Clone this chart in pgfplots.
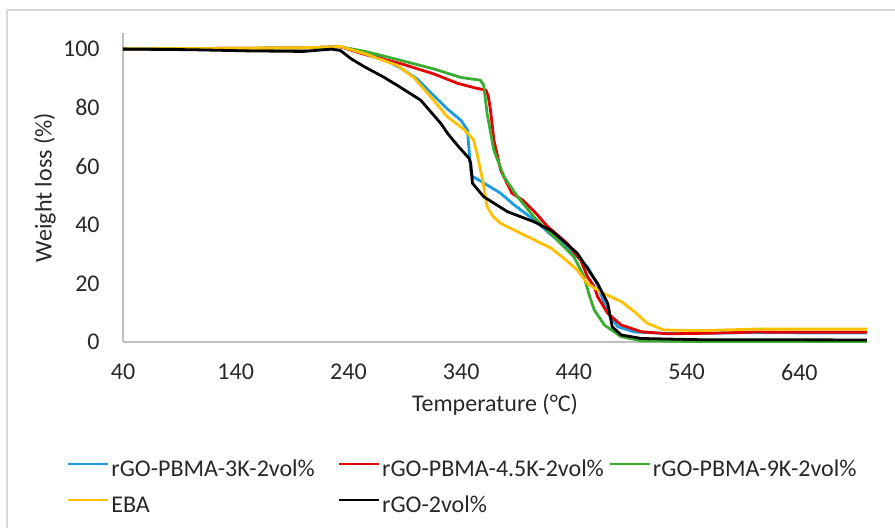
\documentclass[border=0pt]{standalone}
\usepackage{fontspec}
\setmainfont{Carlito}
\usepackage{pgfplots}
\pgfplotsset{compat=1.18}

\definecolor{cblue}{RGB}{28,157,222}
\definecolor{cred}{RGB}{228,0,0}
\definecolor{cgreen}{RGB}{58,172,50}
\definecolor{cyellow}{RGB}{255,192,0}
\definecolor{axgray}{RGB}{191,191,191}
\definecolor{txt}{RGB}{40,40,40}

\begin{document}
\fontsize{12}{14}\selectfont
\begin{tikzpicture}
\useasboundingbox (-61.5pt,-92.5pt) rectangle (386pt,171pt);
\draw[black!15, line width=0.8pt] (-58pt,-93pt) -- (-58pt,166pt) -- (387pt,166pt);
\begin{axis}[
  at={(0pt,0pt)}, anchor=south west,
  scale only axis, width=372pt, height=154.5pt,
  xmin=40, xmax=700, ymin=0, ymax=105.5,
  xtick={40,140,...,640}, ytick={0,20,...,100},
  axis x line*=bottom, axis y line*=left,
  axis line style={axgray, line width=0.8pt, -},
  major tick length=0pt,
  /pgf/number format/assume math mode=true,
  tick label style={text=txt},
  yticklabel style={xshift=-7.5pt},
  xticklabel style={yshift=-6.7pt},
  xlabel={Temperature (°C)}, ylabel={Weight loss (\%)},
  xlabel style={at={(axis description cs:0.5,0)}, anchor=center, yshift=-31.5pt, text=txt},
  ylabel style={at={([xshift=-39pt]axis description cs:0,0.5)}, anchor=center, text=txt},
  every axis plot/.append style={line width=1.4pt, line join=round, no markers},
  legend columns=3,
  legend cell align=left,
  legend image code/.code={\draw[#1, line width=1.4pt] (0pt,3pt) -- (20pt,3pt);},
  legend style={at={([xshift=-28.2pt,yshift=-58.5pt]axis description cs:0,0)},
    anchor=north west, draw=none, fill=none, inner sep=0pt, outer sep=0pt,
    row sep=7pt, text=txt,
    nodes={inner xsep=1pt, inner ysep=0pt, text height=8.5pt, text depth=2.5pt}},
]
% rGO-PBMA-3K-2vol%
\addplot[cblue] coordinates {
  (40,100)(100,100.1)(150,100.2)(200,100.4)(233,100.8)(256,98.5)(270,96.8)
  (286,93.6)(301,89.8)(316,84)(328,79.5)(340,75.6)(345.5,72.4)(347,65.5)
  (348.5,58.5)(350,56.5)(357,55)(375,50.8)(387,46.8)(405,41.6)(420,36.5)
  (434,32.5)(452,25.7)(461,19.5)(470,10)(479,5.2)(494,3.4)(520,3)(560,3)
  (600,3.2)(650,3.1)(700,3.1)
};
\addlegendentry{\makebox[112pt][l]{rGO-PBMA-3K-2vol\%}}
% rGO-PBMA-4.5K-2vol%
\addplot[cred] coordinates {
  (40,100)(100,100.2)(150,100.3)(200,100.4)(233,100.8)(256,98)(286,95.1)
  (316,91.5)(337,88.3)(354,86.6)(362,86)(364,84)(366,79.2)(369,69)(375,58.7)
  (385,50.8)(395,48.3)(405,44.5)(417,39.3)(434,33.7)(446,28)(452,22.3)
  (458,18.9)(461,15.5)(470,9.8)(482,5.8)(500,3.5)(523,2.8)(560,3)(600,3.4)
  (650,3.3)(700,3.3)
};
\addlegendentry{\makebox[112pt][l]{rGO-PBMA-4.5K-2vol\%}}
% rGO-PBMA-9K-2vol%
\addplot[cgreen] coordinates {
  (40,100)(100,100.2)(150,100.3)(200,100.4)(233,100.8)(256,99.1)(286,96.2)
  (316,93.2)(340,90.3)(357,89.4)(360,87.7)(363,78)(369,65.5)(378,56.4)
  (390,49.6)(405,42.5)(422,36)(440,29.1)(449,22.3)(454,15.5)(458,11)
  (467,5.8)(482,1.8)(500,0.4)(540,0.2)(620,0.2)(700,0.2)
};
\addlegendentry{\makebox[112pt][l]{rGO-PBMA-9K-2vol\%}}
% EBA
\addplot[cyellow] coordinates {
  (40,100)(100,100.2)(150,100.3)(200,100.5)(233,100.9)(254,98.5)(283,94.5)
  (298,90.3)(313,83.7)(328,76.8)(340,73.3)(343,72.4)(351,69)(354,64.4)
  (359,55.3)(363,46.2)(368,43)(375,40.5)(393,37.1)(420,32)(431,28.6)
  (443,24.6)(452,20)(464,17)(482,13.8)(494,10.3)(505,6.4)(520,4.1)
  (553,3.9)(600,4.4)(650,4.4)(700,4.4)
};
\addlegendentry{\makebox[112pt][l]{EBA}}
% rGO-2vol%
\addplot[black] coordinates {
  (40,100)(100,99.8)(150,99.4)(200,99.2)(225,100)(233,99.5)(242,96.8)
  (254,94)(271,90.5)(283,87.7)(304,82.6)(313,78.6)(322,74.6)(328,71.2)
  (337,67)(347,62.7)(348.5,61)(350,54.2)(360,49.6)(381,44.5)(405,41)
  (420,38)(428,35.4)(443,30.3)(455,23.4)(461,20)(464,17.7)(470,13.2)
  (474,5.2)(482,2.4)(500,1.2)(550,0.8)(700,0.7)
};
\addlegendentry{\makebox[112pt][l]{rGO-2vol\%}}
\end{axis}
\end{tikzpicture}
\end{document}
